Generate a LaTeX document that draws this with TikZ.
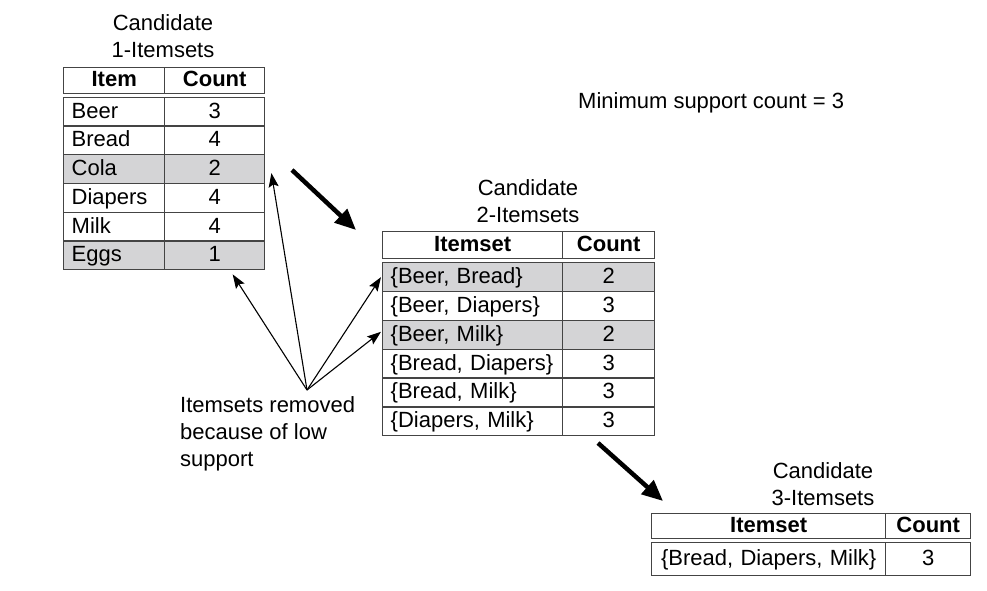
\documentclass[tikz,border=0pt]{standalone}
\usepackage{fontspec}
\setmainfont{Liberation Sans}
\usetikzlibrary{arrows.meta,calc}
\definecolor{lc}{HTML}{444444}
\definecolor{shade}{HTML}{D4D4D6}
\newcommand\dgfont{\fontsize{22}{27}\selectfont}
\begin{document}
\begin{tikzpicture}[x=1pt,y=-1pt,
  cellbase/.style={draw=lc, line width=1.4pt, inner ysep=0pt, anchor=north west,
    text height=14.5pt, text depth=1.5pt, font=\dgfont},
  hdr/.style={cellbase, font=\dgfont\bfseries, align=center, inner xsep=0pt},
  lcol/.style={cellbase, align=left, inner xsep=8pt},
  ccol/.style={cellbase, align=center, inner xsep=0pt},
  gray/.style={fill=shade},
  % table 1
  h1a/.style={hdr, text width=101pt, minimum height=25.5pt},
  h1b/.style={hdr, text width=100pt, minimum height=25.5pt},
  r1a/.style={lcol, text width=85pt, minimum height=28.75pt},
  r1b/.style={ccol, text width=100pt, minimum height=28.75pt},
  % table 2
  h2a/.style={hdr, text width=180pt, minimum height=26.5pt},
  h2b/.style={hdr, text width=92pt, minimum height=26.5pt},
  r2a/.style={lcol, inner xsep=8pt, text width=164pt, minimum height=28.83pt},
  r2b/.style={ccol, text width=92pt, minimum height=28.83pt},
  % table 3
  h3a/.style={hdr, text width=234pt, minimum height=24.5pt},
  h3b/.style={hdr, text width=85pt, minimum height=24.5pt},
  r3a/.style={ccol, text width=234pt, minimum height=33pt},
  r3b/.style={ccol, text width=85pt, minimum height=33pt},
  title/.style={font=\dgfont, align=center, inner sep=0pt, anchor=north},
  plain/.style={font=\dgfont, inner sep=0pt},
  bigarrow/.style={-{Triangle[length=21pt,width=18pt]}, line width=4.5pt, black},
  thinarrow/.style={-{Stealth[length=14pt,width=10pt,inset=2.5pt]}, line width=1.1pt, black}
]
\fill[white] (0,0) rectangle (987,590);
\useasboundingbox (0,0) rectangle (987,590);

% ---------- Table 1 ----------
\node[title] (t1t) at (163,14) {Candidate\\1-Itemsets};
\node[h1a] (t1h1) at (63,67) {Item};
\node[h1b] (t1h2) at (164,67) {Count};
\node[r1a] (t1r1a) at (63,96.5) {Beer};
\node[r1b] (t1r1b) at (164,96.5) {3};
\node[r1a] (t1r2a) at (63,125.25) {Bread};
\node[r1b] (t1r2b) at (164,125.25) {4};
\node[r1a,gray] (t1r3a) at (63,154) {Cola};
\node[r1b,gray] (t1r3b) at (164,154) {2};
\node[r1a] (t1r4a) at (63,182.75) {Diapers};
\node[r1b] (t1r4b) at (164,182.75) {4};
\node[r1a] (t1r5a) at (63,211.5) {Milk};
\node[r1b] (t1r5b) at (164,211.5) {4};
\node[r1a,gray] (t1r6a) at (63,240.25) {Eggs};
\node[r1b,gray] (t1r6b) at (164,240.25) {1};

% ---------- Table 2 ----------
\node[title] (t2t) at (528,179) {Candidate\\2-Itemsets};
\node[h2a] (t2h1) at (382,231) {Itemset};
\node[h2b] (t2h2) at (562,231) {Count};
\node[r2a,gray] (t2r1a) at (382,262) {\{Beer, Bread\}};
\node[r2b,gray] (t2r1b) at (562,262) {2};
\node[r2a] (t2r2a) at (382,290.83) {\{Beer, Diapers\}};
\node[r2b] (t2r2b) at (562,290.83) {3};
\node[r2a,gray] (t2r3a) at (382,319.67) {\{Beer, Milk\}};
\node[r2b,gray] (t2r3b) at (562,319.67) {2};
\node[r2a] (t2r4a) at (382,348.5) {\{Bread, Diapers\}};
\node[r2b] (t2r4b) at (562,348.5) {3};
\node[r2a] (t2r5a) at (382,377.33) {\{Bread, Milk\}};
\node[r2b] (t2r5b) at (562,377.33) {3};
\node[r2a] (t2r6a) at (382,406.17) {\{Diapers, Milk\}};
\node[r2b] (t2r6b) at (562,406.17) {3};

% ---------- Table 3 ----------
\node[title] (t3t) at (823,462.5) {Candidate\\3-Itemsets};
\node[h3a] (t3h1) at (651,513) {Itemset};
\node[h3b] (t3h2) at (885,513) {Count};
\node[r3a] (t3r1a) at (651,542) {\{Bread, Diapers, Milk\}};
\node[r3b] (t3r1b) at (885,542) {3};

% ---------- other text ----------
\node[plain, anchor=base west] (minsup) at (578,108) {Minimum support count = 3};
\node[plain, anchor=north west, align=left] (note) at (180,396.5) {Itemsets removed\\because of low\\support};

% ---------- arrows ----------
\coordinate (a1s) at (292,170);
\coordinate (a1e) at (356,230);
\coordinate (a2s) at (598,443);
\coordinate (a2e) at (663,501);
\draw[bigarrow] (a1s) -- (a1e);
\draw[bigarrow] (a2s) -- (a2e);

\coordinate (src) at (307,390);
\draw[thinarrow] (src) -- ([xshift=18pt,yshift=-4pt]t1r6b.south);
\draw[thinarrow] (src) -- ([xshift=6pt,yshift=-4pt]t1r3b.east);
\draw[thinarrow] (src) -- ([xshift=-1pt]t2r1a.west);
\draw[thinarrow] (src) -- ([xshift=-1pt,yshift=3pt]t2r3a.west);
\end{tikzpicture}
\end{document}
